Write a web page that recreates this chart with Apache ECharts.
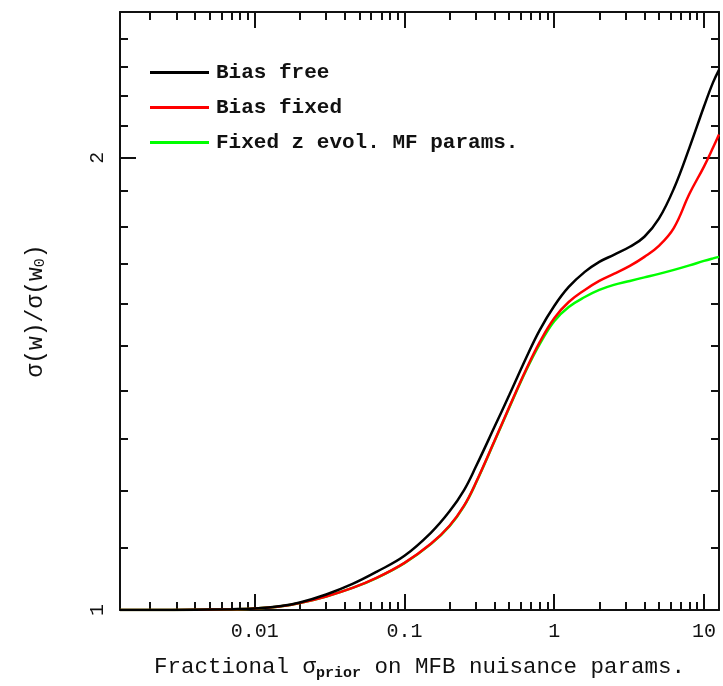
<!DOCTYPE html>
<html><head><meta charset="utf-8">
<script src="https://cdn.jsdelivr.net/npm/echarts@6/dist/echarts.min.js"></script>
<style>html,body{margin:0;padding:0;background:#fff}#c{width:723px;height:686px}</style>
</head><body><div id="c"></div>
<script>
// ---- data ----
const xValues    = [0.00126, 0.002, 0.004, 0.007, 0.01, 0.015, 0.02, 0.03, 0.045, 0.065, 0.1, 0.15, 0.2, 0.25, 0.3, 0.4, 0.5, 0.65, 0.8, 1.0, 1.25, 1.6, 2.0, 2.5, 3.2, 4.0, 5.0, 6.3, 8.0, 10.0, 11.5, 12.6];
const biasFree   = [1.000, 1.000, 1.0005, 1.0012, 1.0023, 1.0062, 1.0116, 1.0241, 1.0408, 1.0602, 1.0866, 1.1255, 1.1632, 1.2018, 1.2458, 1.3245, 1.3896, 1.4720, 1.5356, 1.5933, 1.6405, 1.6788, 1.7048, 1.7232, 1.7446, 1.7716, 1.8213, 1.9077, 2.0310, 2.1631, 2.2444, 2.288];
const biasFixed  = [1.000, 1.000, 1.0005, 1.0011, 1.0022, 1.0057, 1.0108, 1.021, 1.0344, 1.0504, 1.0749, 1.1067, 1.1378, 1.1733, 1.2156, 1.2965, 1.3643, 1.4461, 1.5076, 1.5639, 1.6031, 1.6330, 1.6557, 1.6736, 1.6943, 1.7179, 1.7472, 1.7962, 1.8922, 1.9728, 2.0310, 2.0721];
const fixedZEvol = [1.000, 1.000, 1.0005, 1.0011, 1.0022, 1.0057, 1.0108, 1.021, 1.0344, 1.0502, 1.0745, 1.1062, 1.1372, 1.1727, 1.2148, 1.2955, 1.3630, 1.4439, 1.5030, 1.5567, 1.5909, 1.6154, 1.6330, 1.6456, 1.6557, 1.6647, 1.6736, 1.6839, 1.6956, 1.7074, 1.7140, 1.7179];
const seriesNames = ['Bias free', 'Bias fixed', 'Fixed z evol. MF params.'];
const xRange = [0.00126, 12.6];
const yRange = [1, 2.5];
const xMajorTicks = [0.01, 0.1, 1, 10];
const xMinorTicks = [0.002,0.003,0.004,0.005,0.006,0.007,0.008,0.009,
                     0.02,0.03,0.04,0.05,0.06,0.07,0.08,0.09,
                     0.2,0.3,0.4,0.5,0.6,0.7,0.8,0.9,
                     2,3,4,5,6,7,8,9];
const yMajorTicks = [1, 2];
const yMinorTicks = [1.1,1.2,1.3,1.4,1.5,1.6,1.7,1.8,1.9,2.1,2.2,2.3,2.4,2.5];

// ---- chart ----
const FONT = '"Liberation Mono", "DejaVu Sans Mono", monospace';
const lg = v => Math.log10(v);
const fmt = v => String(parseFloat(Math.pow(10, v).toPrecision(3)));
const AX = '#111';

function tickAxis(dim, position, ticks, len, withLabel, withLine) {
  const range = dim === 'x' ? xRange : yRange;
  const ax = {
    type: 'value', position: position,
    min: lg(range[0]), max: lg(range[1]),
    axisLine: { show: !!withLine, onZero: false, lineStyle: { color: AX, width: 2 } },
    axisTick: { show: true, inside: true, length: len, customValues: ticks.map(lg), lineStyle: { color: AX, width: 2 } },
    axisLabel: { show: false },
    splitLine: { show: false }
  };
  if (withLabel) {
    ax.axisLabel = {
      show: true, customValues: ticks.map(lg), formatter: fmt,
      fontFamily: FONT, fontSize: 20, color: '#111',
      margin: 12, rotate: dim === 'y' ? 90 : 0
    };
  }
  return ax;
}

const chart = echarts.init(document.getElementById('c'), null, { renderer: 'canvas' });
const xData = (ys) => xValues.map((x, i) => [x, ys[i]]);

const option = {
  animation: false,
  backgroundColor: '#fff',
  grid: { left: 120, right: 4, top: 12, bottom: 76, containLabel: false },
  legend: {
    data: seriesNames, orient: 'vertical', left: 150, top: 62, padding: 0,
    icon: 'rect', itemWidth: 59, itemHeight: 3, itemGap: 14, selectedMode: false,
    textStyle: { fontFamily: FONT, fontWeight: 'bold', fontSize: 21, lineHeight: 21, color: '#111', padding: [0, 0, 0, 2] }
  },
  xAxis: [
    { type: 'log', logBase: 10, position: 'bottom', min: xRange[0], max: xRange[1],
      axisLine: { show: true, onZero: false, lineStyle: { color: AX, width: 2 } },
      axisTick: { show: false }, axisLabel: { show: false }, splitLine: { show: false },
      name: '{a|Fractional σ}{s|prior}{a| on MFB nuisance params.}', nameLocation: 'middle', nameGap: 44,
      nameTextStyle: { color: '#111', rich: {
        a: { fontFamily: FONT, fontSize: 22.5, color: '#111' },
        s: { fontFamily: FONT, fontSize: 15, fontWeight: 'bold', color: '#111', padding: [12, 0, 0, 0] } } } },
    tickAxis('x', 'bottom', xMajorTicks, 16, true, false),
    tickAxis('x', 'bottom', xMinorTicks, 8, false, false),
    tickAxis('x', 'top', xMajorTicks, 16, false, true),
    tickAxis('x', 'top', xMinorTicks, 8, false, false)
  ],
  yAxis: [
    { type: 'log', logBase: 10, position: 'left', min: yRange[0], max: yRange[1],
      axisLine: { show: true, onZero: false, lineStyle: { color: AX, width: 2 } },
      axisTick: { show: false }, axisLabel: { show: false }, splitLine: { show: false },
      name: '{a|σ(w)/σ(w}{s|0}{a|)}', nameLocation: 'middle', nameGap: 72,
      nameTextStyle: { color: '#111', rich: {
        a: { fontFamily: FONT, fontSize: 23, color: '#111' },
        s: { fontFamily: FONT, fontSize: 15, color: '#111', padding: [10, 0, 0, 0] } } } },
    tickAxis('y', 'left', yMajorTicks, 16, true, false),
    tickAxis('y', 'left', yMinorTicks, 8, false, false),
    tickAxis('y', 'right', yMajorTicks, 16, false, true),
    tickAxis('y', 'right', yMinorTicks, 8, false, false)
  ],
  series: [
    { name: seriesNames[0], type: 'line', xAxisIndex: 0, yAxisIndex: 0, data: xData(biasFree),
      showSymbol: false, smooth: 0.4, z: 5, color: '#000',
      lineStyle: { color: '#000', width: 2.5 } },
    { name: seriesNames[1], type: 'line', xAxisIndex: 0, yAxisIndex: 0, data: xData(biasFixed),
      showSymbol: false, smooth: 0.4, z: 4, color: '#ff0000',
      lineStyle: { color: '#ff0000', width: 2.5 } },
    { name: seriesNames[2], type: 'line', xAxisIndex: 0, yAxisIndex: 0, data: xData(fixedZEvol),
      showSymbol: false, smooth: 0.4, z: 3, color: '#00ff00',
      lineStyle: { color: '#00ff00', width: 2.5 } }
  ]
};
chart.setOption(option);
</script></body></html>
